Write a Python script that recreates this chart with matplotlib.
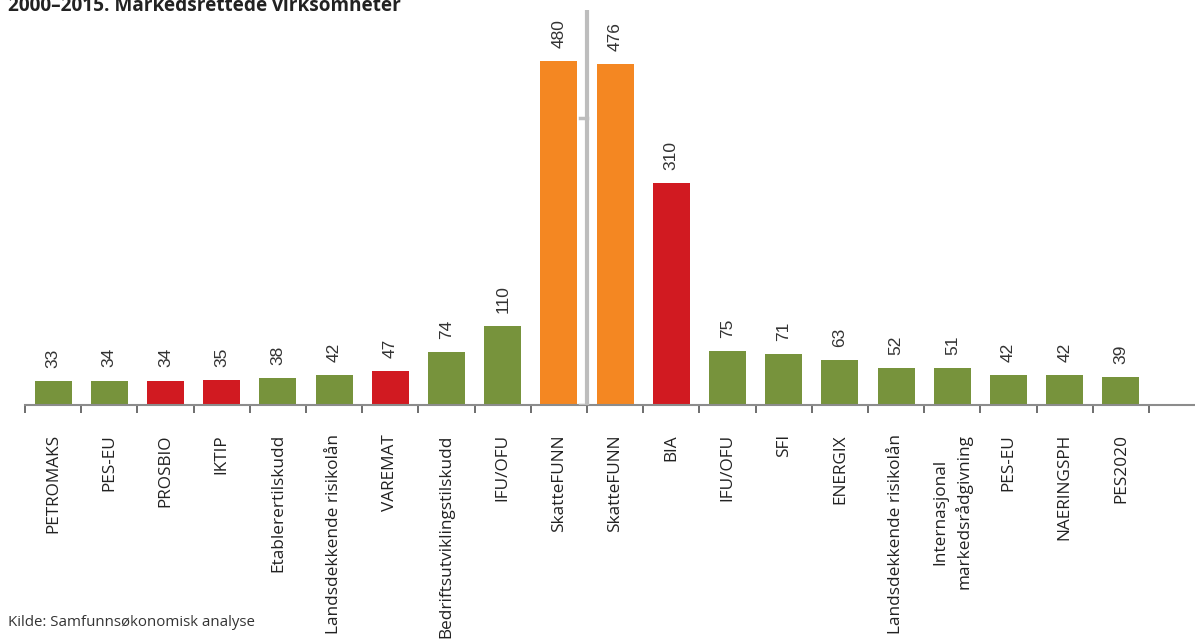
import matplotlib
matplotlib.use("Agg")
import matplotlib.pyplot as plt

categories = ["PETROMAKS", "PES-EU", "PROSBIO", "IKTIP", "Etablerertilskudd",
              "Landsdekkende risikolån", "VAREMAT", "Bedriftsutviklingstilskudd",
              "IFU/OFU", "SkatteFUNN", "SkatteFUNN", "BIA", "IFU/OFU", "SFI",
              "ENERGIX", "Landsdekkende risikolån", "Internasjonal\nmarkedsrådgivning",
              "PES-EU", "NAERINGSPH", "PES2020"]
values = [33, 34, 34, 35, 38, 42, 47, 74, 110, 480, 476, 310, 75, 71, 63, 52, 51, 42, 42, 39]
groups = ["g", "g", "r", "r", "g", "g", "r", "g", "g", "o", "o", "r", "g", "g", "g", "g", "g", "g", "g", "g"]

palette = {"g": "#77933C", "r": "#D11A21", "o": "#F48722"}
colors = [palette[c] for c in groups]

W, H = 1195, 639
fig = plt.figure(figsize=(W / 100, H / 100), dpi=100)
ax = fig.add_axes([25 / W, (H - 405) / H, 1170 / W, 395 / H])

x = list(range(len(values)))
ax.bar(x, values, width=0.66, color=colors, zorder=2)

ymax = 551
ax.set_ylim(0, ymax)
slot = 56.2
ax.set_xlim(-0.5, -0.5 + 1170 / slot)

for xi, v in zip(x, values):
    ax.annotate(str(v), (xi, v), xytext=(0, 9.5), textcoords="offset points",
                rotation=90, ha="center", va="bottom", fontsize=12.5,
                color="#333333", family="Liberation Sans")

# separator line between the two SkatteFUNN bars
sep_x = 9.5
ax.plot([sep_x, sep_x], [0, ymax], color="#BDBDBD", lw=3, zorder=3, solid_capstyle="butt")
for yv in (0, 400):
    ax.plot([sep_x - 0.12, sep_x], [yv, yv], color="#BDBDBD", lw=2.5, zorder=3)

for s in ("top", "right", "left"):
    ax.spines[s].set_visible(False)
ax.spines["bottom"].set_color("#8C8C8C")
ax.spines["bottom"].set_linewidth(1.5)
ax.set_yticks([])

ax.set_xticks([i + 0.5 for i in range(-1, len(values))], minor=False)
ax.set_xticklabels([])
ax.tick_params(axis="x", which="major", length=6, width=1.2, color="#555555", direction="out")
ax.set_xticks(x, minor=True)
ax.set_xticklabels(categories, minor=True, rotation=90, fontsize=12.4,
                   family="Open Sans", color="#222222", va="top", ha="center",
                   multialignment="center", linespacing=1.45)
ax.tick_params(axis="x", which="minor", length=0, pad=21)

fig.text(8 / W, 1 - 11 / H, "2000–2015. Markedsrettede virksomheter", fontsize=13.7,
         fontweight="bold", family="Open Sans", color="#222222", va="baseline", ha="left")
fig.text(8 / W, 1 - 622 / H, "Kilde: Samfunnsøkonomisk analyse", fontsize=10.8,
         family="Open Sans", color="#333333", va="center", ha="left")

fig.savefig("out.png", dpi=100)
